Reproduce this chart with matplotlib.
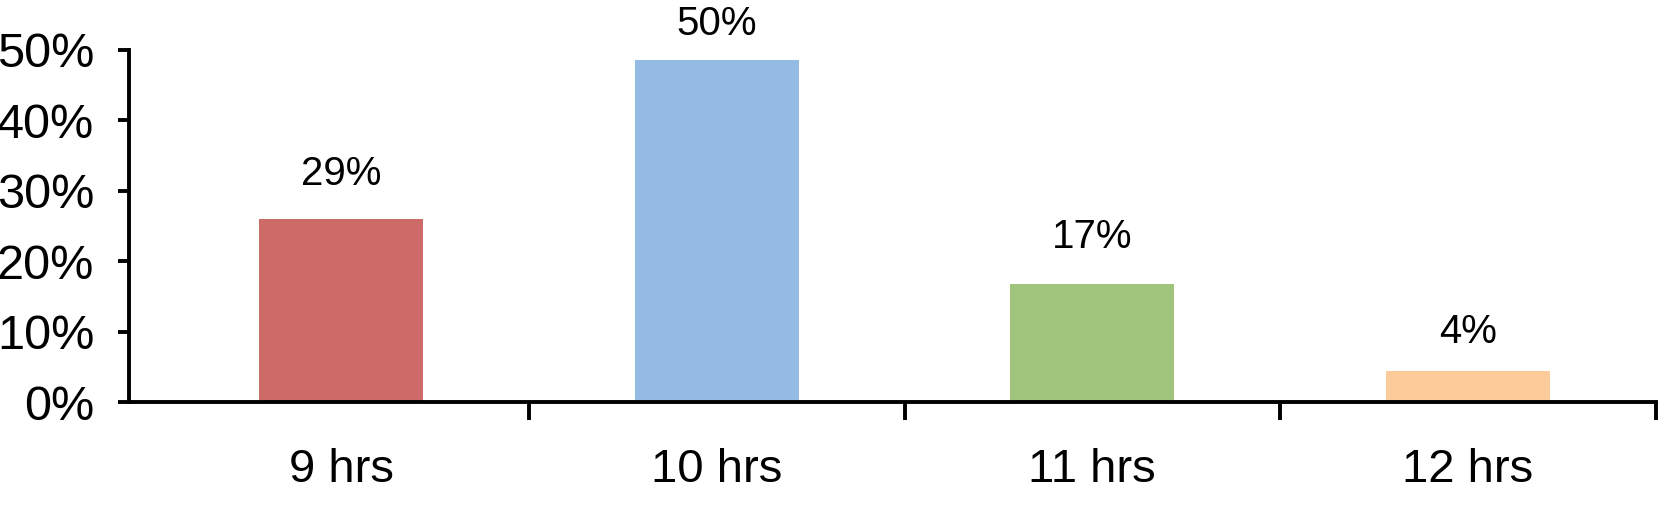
import numpy as np
import matplotlib
matplotlib.use("Agg")
import matplotlib.pyplot as plt
from matplotlib.ticker import FixedLocator, FuncFormatter

plt.rcParams['font.family'] = ['Liberation Sans', 'DejaVu Sans']

# data
categories = ["9 hrs", "10 hrs", "11 hrs", "12 hrs"]
bar_heights = [26.0, 48.5, 16.7, 4.4]   # drawn bar heights (%)
bar_labels = ["29%", "50%", "17%", "4%"]  # printed labels
colors = ["#CD6B68", "#94BBE4", "#A0C47B", "#FBCB9A"]
label_gap = [24.5, 18, 26, 20]  # points between bar top and label baseline

fig = plt.figure(figsize=(16.59, 5.07), dpi=100)
ax = fig.add_axes([0.0778, 0.207, 0.9202, 0.695])

x = np.arange(len(categories))
bars = ax.bar(x, bar_heights, width=0.437, color=colors, zorder=2)

for b, lab, g in zip(bars, bar_labels, label_gap):
    ax.annotate(lab, (b.get_x() + b.get_width() / 2, b.get_height()),
                xytext=(0, g), textcoords="offset points",
                ha="center", va="baseline", fontsize=29, annotation_clip=False)

ax.set_xlim(-0.565, 3.5)
ax.set_ylim(0, 50)

# category boundaries as tick marks, names on minor ticks
ax.xaxis.set_major_locator(FixedLocator([0.5, 1.5, 2.5, 3.5]))
ax.xaxis.set_major_formatter(FuncFormatter(lambda v, p: ""))
ax.xaxis.set_minor_locator(FixedLocator(x))
ax.set_xticklabels(categories, minor=True)
ax.tick_params(axis="x", which="major", direction="out", length=13, width=2.8)
ax.tick_params(axis="x", which="minor", length=0, pad=33, labelsize=34)

ax.set_yticks([0, 10, 20, 30, 40, 50])
ax.yaxis.set_major_formatter(FuncFormatter(lambda v, p: "%d%%" % v))
ax.tick_params(axis="y", direction="out", length=8, width=2.8, pad=17, labelsize=35)

for s in ["top", "right"]:
    ax.spines[s].set_visible(False)
for s in ["left", "bottom"]:
    ax.spines[s].set_linewidth(2.8)

fig.savefig("out.png", dpi=100)
